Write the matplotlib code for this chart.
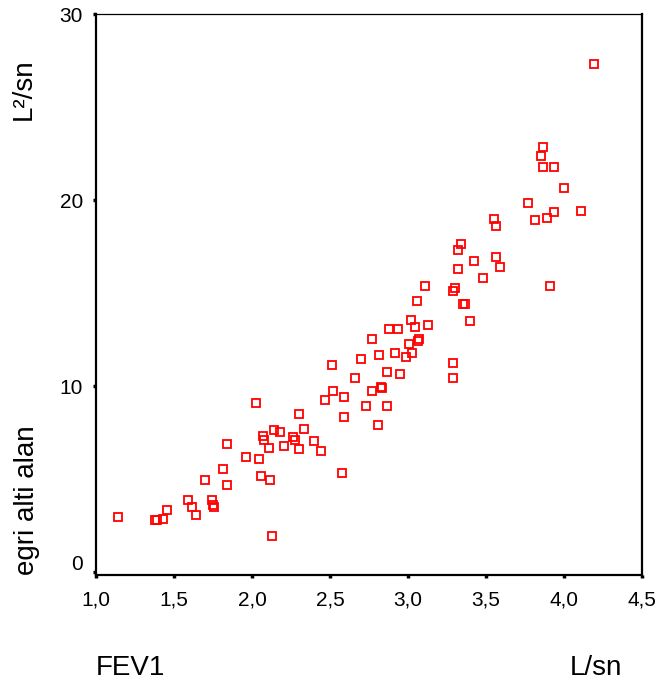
import matplotlib
matplotlib.use("Agg")
import matplotlib.pyplot as plt
from matplotlib.transforms import ScaledTranslation

plt.rcParams['font.family'] = ['Liberation Sans', 'DejaVu Sans']

# FEV1 (L/sn) vs area under curve (L²/sn)
fev1 = [1.143, 1.378, 1.389, 1.428, 1.457, 1.592, 1.613, 1.639, 1.699, 1.746,
        1.753, 1.758, 1.816, 1.842, 1.842, 1.962, 2.024, 2.047, 2.058, 2.068,
        2.077, 2.107, 2.117, 2.128, 2.139, 2.177, 2.203, 2.265, 2.276, 2.299,
        2.299, 2.335, 2.395, 2.444, 2.468, 2.515, 2.517, 2.577, 2.588, 2.588,
        2.660, 2.697, 2.733, 2.769, 2.769, 2.806, 2.816, 2.825, 2.831, 2.865,
        2.865, 2.878, 2.935, 2.915, 2.951, 3.006, 2.985, 3.024, 3.021, 3.045,
        3.071, 3.067, 3.130, 3.059, 3.109, 3.287, 3.301, 3.288, 3.288, 3.355,
        3.368, 3.395, 3.323, 3.338, 3.323, 3.421, 3.481, 3.564, 3.590, 3.551,
        3.566, 3.769, 3.816, 3.865, 3.853, 3.865, 3.938, 3.998, 4.107, 3.938,
        3.889, 3.912, 4.190]
area = [2.96, 2.83, 2.80, 2.87, 3.37, 3.87, 3.48, 3.08, 4.98, 3.87,
        3.60, 3.48, 5.57, 6.90, 4.68, 6.20, 9.12, 6.08, 5.18, 7.33,
        7.13, 6.70, 4.98, 1.95, 7.62, 7.53, 6.79, 7.27, 7.13, 8.51,
        6.61, 7.71, 7.03, 6.49, 9.23, 11.15, 9.75, 5.31, 9.43, 8.33,
        10.43, 11.45, 8.92, 12.56, 9.75, 7.90, 11.67, 9.94, 9.92, 10.74,
        8.92, 13.06, 13.06, 11.76, 10.65, 12.26, 11.54, 11.76, 13.58, 13.17,
        12.56, 12.44, 13.26, 14.59, 15.38, 15.11, 15.29, 11.25, 10.43, 14.39,
        14.39, 13.48, 16.29, 17.62, 17.30, 16.70, 15.79, 16.92, 16.40, 18.96,
        18.62, 19.82, 18.92, 22.87, 22.37, 21.76, 21.76, 20.65, 19.43, 19.34,
        19.03, 15.39, 27.31]

xticks = [1.0, 1.5, 2.0, 2.5, 3.0, 3.5, 4.0, 4.5]
xticklabels = ['1,0', '1,5', '2,0', '2,5', '3,0', '3,5', '4,0', '4,5']
yticks = [0, 10, 20, 30]
yticklabels = ['0', '10', '20', '30']

W, H = 658, 681
fig = plt.figure(figsize=(W / 100, H / 100), dpi=100)
ax = fig.add_axes([96 / W, 1 - 575 / H, (642 - 96) / W, (575 - 14) / H])

ax.plot(fev1, area, linestyle='none', marker='s', markersize=5.5,
        markerfacecolor='none', markeredgecolor='#ff0000', markeredgewidth=1.3)

ax.set_xlim(1.0, 4.5)
ax.set_ylim(-0.15, 30)
ax.set_xticks(xticks)
ax.set_xticklabels(xticklabels)
ax.set_yticks(yticks)
ax.set_yticklabels(yticklabels)
ax.tick_params(direction='out', length=2.5, width=2.5, labelsize=15,
               color='black')
ax.tick_params(axis='x', pad=9)
ax.tick_params(axis='y', pad=7)

for side in ['left', 'bottom', 'right']:
    ax.spines[side].set_linewidth(1.6)
ax.spines['top'].set_linewidth(0.9)

# the "0" label sits a little above its tick
lbl0 = ax.get_yticklabels()[0]
lbl0.set_transform(lbl0.get_transform() + ScaledTranslation(0, 10 / 100, fig.dpi_scale_trans))

fig.text(27 / W, 1 - 575 / H, 'egri alti alan', rotation=90, fontsize=20,
         ha='center', va='bottom')
fig.text(24 / W, 1 - 58 / H, 'L²/sn', rotation=90, fontsize=20,
         ha='center', va='top')
fig.text(96 / W, 6 / H, 'FEV1', fontsize=20, ha='left', va='baseline')
fig.text(622 / W, 6 / H, 'L/sn', fontsize=20, ha='right', va='baseline')

fig.savefig('out.png', dpi=100)
